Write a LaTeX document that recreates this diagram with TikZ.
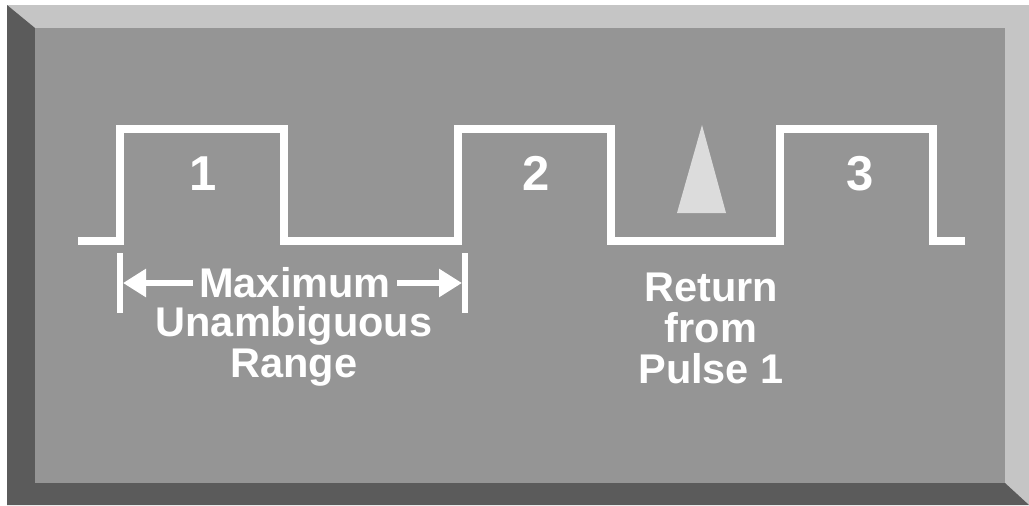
\documentclass[tikz,border=0pt]{standalone}
\usepackage{fontspec}
\setmainfont{Liberation Sans}
\usepackage{xcolor}
\usetikzlibrary{arrows.meta}
\definecolor{bevellight}{RGB}{197,197,197}
\definecolor{beveldark}{RGB}{91,91,91}
\definecolor{panelface}{RGB}{149,149,149}
\definecolor{echofill}{RGB}{220,220,220}

\begin{document}
\begin{tikzpicture}[
  x=0.5pt,y=-0.5pt,
  pulse/.style={draw=white,line width=3.75pt,line join=miter},
  num/.style={text=white,font=\fontsize{24.5}{28}\selectfont\bfseries,inner sep=0pt},
  lbl/.style={text=white,font=\fontsize{20.75}{20.5}\selectfont\bfseries,align=center,inner sep=0pt},
  rangetick/.style={fill=white,inner sep=0pt,outer sep=0pt,minimum width=3pt,minimum height=30pt},
  dimar/.style={draw=white,line width=3.25pt,-{Triangle[length=11.5pt,width=13.5pt]}},
]
  \fill[white] (0,0) rectangle (1029,505);
  \useasboundingbox (0,0) rectangle (1029,505);
  % bevelled panel
  \fill[bevellight] (7,5) rectangle (1029,505);
  \fill[beveldark] (7,5) -- (35,28) -- (35,483) -- (1005,483) -- (1029,505) -- (7,505) -- cycle;
  \fill[panelface] (35,28) rectangle (1005,483);
  % pulse train
  \draw[pulse] (78,241) -- (120,241) -- (120,129) -- (284,129) -- (284,241)
    -- (458,241) -- (458,129) -- (611,129) -- (611,241)
    -- (780,241) -- (780,129) -- (933,129) -- (933,241) -- (965,241);
  \node[num,anchor=base] (p1) at (203,190) {1};
  \node[num,anchor=base] (p2) at (536,190) {2};
  \node[num,anchor=base] (p3) at (860,190) {3};
  % echo of pulse 1
  \fill[echofill] (702,125) -- (726,213) -- (677,213) -- cycle;
  \node[lbl,anchor=base] (echo) at (711,383) {Return\\from\\Pulse 1};
  % range marker
  \node[rangetick] (ltick) at (120,283) {};
  \node[rangetick] (rtick) at (465,283) {};
  \node[lbl,inner xsep=3pt] (maxtxt) at (295,283) {Maximum};
  \node[lbl,anchor=base] (ambig) at (294,377) {Unambiguous\\Range};
  \draw[dimar] (maxtxt) -- (ltick);
  \draw[dimar] (maxtxt) -- (rtick);
\end{tikzpicture}
\end{document}
